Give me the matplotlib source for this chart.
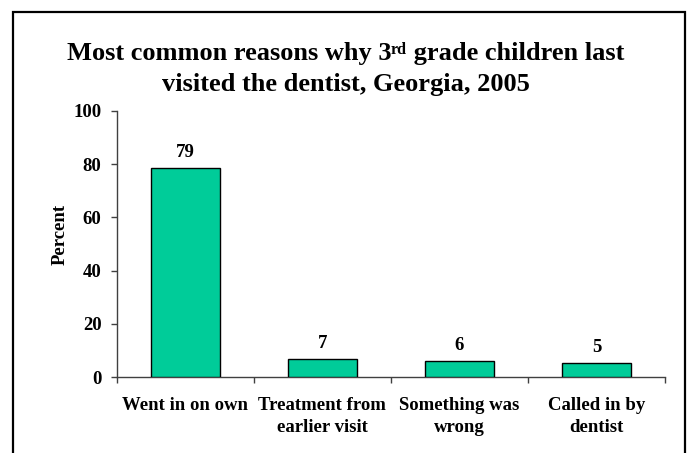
import matplotlib
matplotlib.use("Agg")
import matplotlib.pyplot as plt
from matplotlib.patches import Rectangle
import numpy as np

# data
categories = ["Went in on own", "Treatment from\nearlier visit",
              "Something was\nwrong", "Called in by\ndentist"]
percent = [78.6, 7.0, 6.2, 5.3]
bar_labels = ["79", "7", "6", "5"]
y_ticks = [0, 20, 40, 60, 80, 100]

plt.rcParams['font.family'] = ['Liberation Serif', 'DejaVu Serif']
plt.rcParams['font.weight'] = 'bold'

W, H = 691, 453
fig = plt.figure(figsize=(W / 100, H / 100), dpi=100)

# axes box in pixel coords
left, right, top, bottom = 116.7, 665.0, 110.7, 377.3
ax = fig.add_axes([left / W, 1 - bottom / H, (right - left) / W, (bottom - top) / H])

x = np.arange(len(categories))
ax.bar(x, percent, width=0.5, color='#00CC99', edgecolor='black', linewidth=1.0, zorder=3)

for xi, v, lab in zip(x, percent, bar_labels):
    ax.annotate(lab, (xi, v), xytext=(0, 8), textcoords='offset points',
                ha='center', va='baseline', fontsize=13.5, fontweight='bold')

ax.set_xlim(-0.5, len(categories) - 0.5)
ax.set_ylim(0, 100)
ax.set_yticks(y_ticks)

# category labels sit between boundary ticks
ax.set_xticks(x)
ax.set_xticklabels(categories, fontsize=13.5, fontweight='bold', linespacing=1.4)
ax.tick_params(axis='x', which='major', length=0, pad=14)
ax.set_xticks(np.arange(len(categories) + 1) - 0.5, minor=True)
ax.tick_params(axis='x', which='minor', length=4, width=1, direction='out', color='#404040')
ax.tick_params(axis='y', length=4, width=1, direction='out', pad=7, labelsize=13.5,
               color='#404040')
for t in ax.get_yticklabels():
    t.set_fontweight('bold')

ax.set_ylabel("Percent", fontsize=13.5, fontweight='bold')
ax.yaxis.set_label_coords(-0.087, 0.535)

for s in ['top', 'right']:
    ax.spines[s].set_visible(False)
for s in ['left', 'bottom']:
    ax.spines[s].set_color('#404040')
    ax.spines[s].set_linewidth(1)

# title: first line built from pieces so the "rd" superscript is small
title_size = 19
sup_size = 11.5
base1 = 1 - 60 / H
base2 = 1 - 91 / H
parts = [("Most common reasons why 3", title_size, 0),
         ("rd", sup_size, 6.5 / H),
         (" grade children last", title_size, 0)]
texts = [fig.text(0, base1 + dy, s, fontsize=fs, fontweight='bold', va='baseline', ha='left')
         for s, fs, dy in parts]
renderer = fig.canvas.get_renderer()
widths = [t.get_window_extent(renderer).width / W for t in texts]
xpos = 0.5 - sum(widths) / 2
for t, w in zip(texts, widths):
    t.set_x(xpos)
    xpos += w
fig.text(0.5, base2, "visited the dentist, Georgia, 2005", fontsize=title_size,
         fontweight='bold', ha='center', va='baseline')

# outer frame, open at the bottom like the reference crop
frame = Rectangle((13 / W, -0.1), (685 - 13) / W, 1.1 - 12 / H, transform=fig.transFigure,
                  fill=False, edgecolor='black', linewidth=1.6, clip_on=False)
fig.add_artist(frame)

fig.savefig("out.png", dpi=100)
